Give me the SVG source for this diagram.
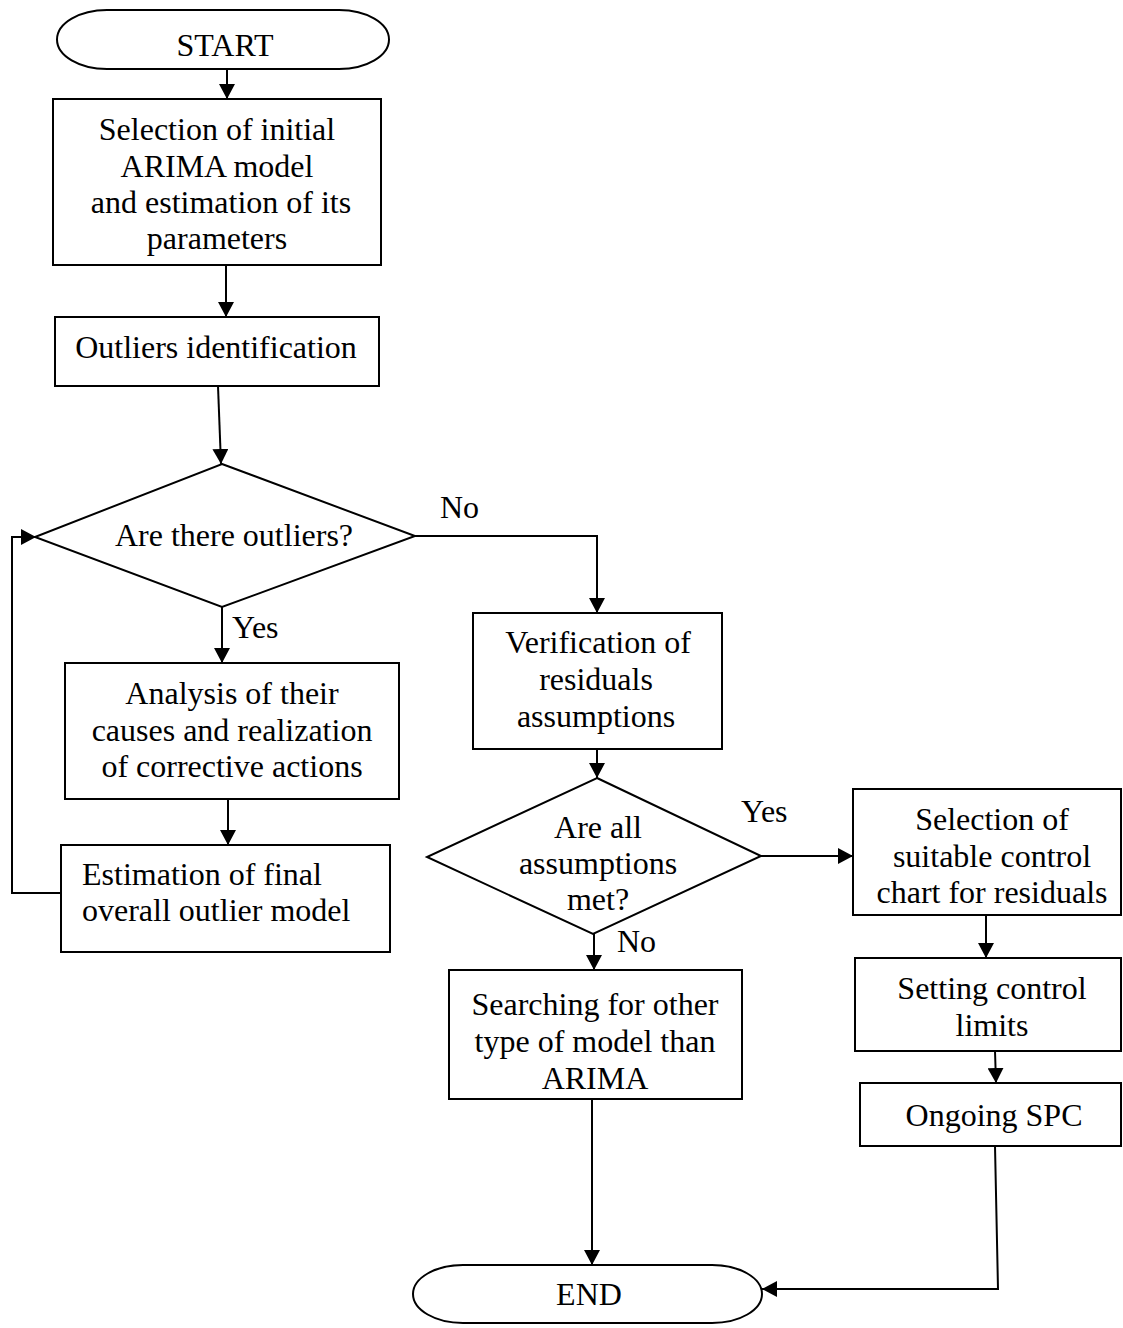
<svg xmlns="http://www.w3.org/2000/svg" width="1123" height="1328" viewBox="0 0 1123 1328">
<defs>
<marker id="ah" viewBox="0 0 15 16" refX="15" refY="8" markerWidth="15" markerHeight="16" markerUnits="userSpaceOnUse" orient="auto">
<path d="M0,0 L15,8 L0,16 z" fill="#000"/>
</marker>
<style>
.s{fill:#fff;stroke:#000;stroke-width:2}
.t{font-family:"Liberation Serif","Times New Roman",serif;font-size:32px;fill:#000;text-anchor:middle}
.l{font-family:"Liberation Serif","Times New Roman",serif;font-size:32px;fill:#000}
.c{fill:none;stroke:#000;stroke-width:2}
.a{marker-end:url(#ah)}
</style>
</defs>
<rect width="1123" height="1328" fill="#fff"/>
<g id="connectors">
<line class="c a" x1="227" y1="69" x2="227" y2="99"/>
<line class="c a" x1="226" y1="265" x2="226" y2="317"/>
<line class="c a" x1="218" y1="386" x2="221" y2="464"/>
<polyline class="c" points="415,536 597,536 597,613" marker-end="url(#ah)"/>
<line class="c a" x1="222" y1="607" x2="222" y2="663"/>
<line class="c a" x1="228" y1="799" x2="228" y2="845"/>
<polyline class="c" points="61,893 12,893 12,537 36,537" marker-end="url(#ah)"/>
<line class="c a" x1="597" y1="749" x2="597" y2="778"/>
<line class="c a" x1="761" y1="856" x2="853" y2="856"/>
<line class="c a" x1="594" y1="934" x2="594" y2="970"/>
<line class="c a" x1="592" y1="1099" x2="592" y2="1265"/>
<line class="c a" x1="986" y1="915" x2="986" y2="958"/>
<line class="c a" x1="995" y1="1051" x2="996" y2="1083"/>
<polyline class="c" points="995,1146 998,1289 762,1289" marker-end="url(#ah)"/>
</g>
<g id="start">
<rect class="s" x="57" y="10" width="332" height="59" rx="50" ry="29.5"/>
<text class="t" x="225" y="56">START</text>
</g>
<g id="select-model">
<rect class="s" x="53" y="99" width="328" height="166"/>
<text class="t" x="217" y="140">Selection of initial</text>
<text class="t" x="217" y="177">ARIMA model</text>
<text class="t" x="221" y="213">and estimation of its</text>
<text class="t" x="217" y="249">parameters</text>
</g>
<g id="outliers-id">
<rect class="s" x="55" y="317" width="324" height="69"/>
<text class="t" x="216" y="358">Outliers identification</text>
</g>
<g id="outliers-q">
<polygon class="s" points="222,464 415,536 222,607 35,537"/>
<text class="t" x="234" y="546">Are there outliers?</text>
</g>
<text class="l" x="440" y="518">No</text>
<text class="l" x="232" y="638">Yes</text>
<g id="analysis">
<rect class="s" x="65" y="663" width="334" height="136"/>
<text class="t" x="232" y="704">Analysis of their</text>
<text class="t" x="232" y="741">causes and realization</text>
<text class="t" x="232" y="777">of corrective actions</text>
</g>
<g id="estimation">
<rect class="s" x="61" y="845" width="329" height="107"/>
<text class="l" x="82" y="885">Estimation of final</text>
<text class="l" x="82" y="921">overall outlier model</text>
</g>
<g id="verification">
<rect class="s" x="473" y="613" width="249" height="136"/>
<text class="t" x="598" y="653">Verification of</text>
<text class="t" x="596" y="690">residuals</text>
<text class="t" x="596" y="727">assumptions</text>
</g>
<g id="assumptions-q">
<polygon class="s" points="597,778 761,856 593,934 427,857"/>
<text class="t" x="598" y="838">Are all</text>
<text class="t" x="598" y="874">assumptions</text>
<text class="t" x="598" y="910">met?</text>
</g>
<text class="l" x="741" y="822">Yes</text>
<text class="l" x="617" y="952">No</text>
<g id="searching">
<rect class="s" x="449" y="970" width="293" height="129"/>
<text class="t" x="595" y="1015">Searching for other</text>
<text class="t" x="595" y="1052">type of model than</text>
<text class="t" x="595" y="1089">ARIMA</text>
</g>
<g id="select-chart">
<rect class="s" x="853" y="789" width="268" height="126"/>
<text class="t" x="992" y="830">Selection of</text>
<text class="t" x="992" y="867">suitable control</text>
<text class="t" x="992" y="903">chart for residuals</text>
</g>
<g id="limits">
<rect class="s" x="855" y="958" width="266" height="93"/>
<text class="t" x="992" y="999">Setting control</text>
<text class="t" x="992" y="1036">limits</text>
</g>
<g id="spc">
<rect class="s" x="860" y="1083" width="261" height="63"/>
<text class="t" x="994" y="1126">Ongoing SPC</text>
</g>
<g id="end">
<rect class="s" x="413" y="1265" width="349" height="58" rx="50" ry="29"/>
<text class="t" x="589" y="1305">END</text>
</g>
</svg>
